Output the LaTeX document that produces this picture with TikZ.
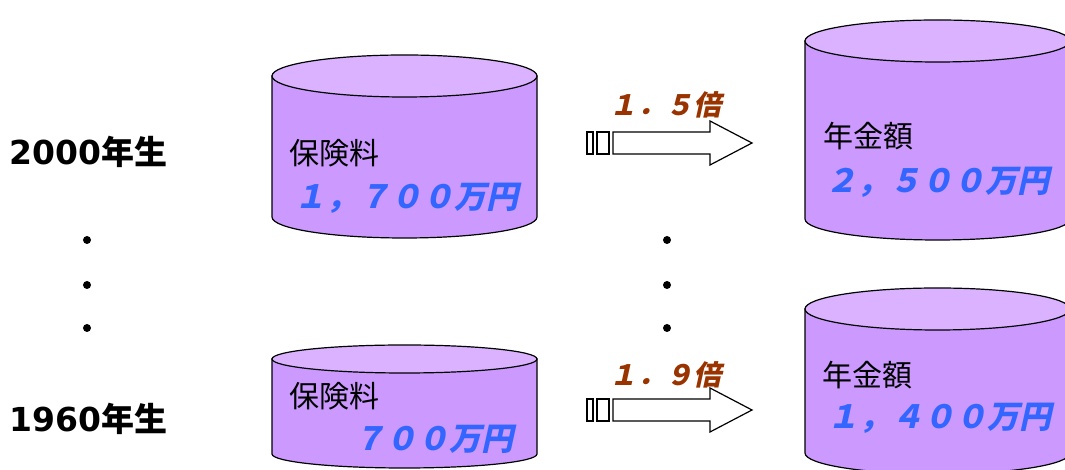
\documentclass[tikz,border=0pt]{standalone}
\usepackage{fontspec}
\usepackage{xcolor}
\usepackage{tikz}

\newfontfamily\jp{Noto Sans CJK JP}
\newfontfamily\jpbi[FakeSlant=0.22]{Noto Sans CJK JP}
\newfontfamily\dv{DejaVu Sans}

\definecolor{drumbody}{HTML}{CC99FF}
\definecolor{drumtop}{HTML}{DAB2FF}
\definecolor{sumblue}{HTML}{3366FF}
\definecolor{ratebrown}{HTML}{993300}

% drum: left x, right x, top y, bottom y, y radius
\newcommand{\drum}[5]{%
	\filldraw[drum_body] (#1,#3) -- (#1,#4) arc[start angle=180,end angle=360,x radius={(#2-#1)/2},y radius=#5] -- (#2,#3) -- cycle;
	\filldraw[drum_top] ({(#1+#2)/2},#3) ellipse[x radius={(#2-#1)/2},y radius=#5];
}

% fat arrow: tail x, centre y
\newcommand{\fatarrow}[2]{%
	\draw[fat_arrow] ({#1},{#2-11}) rectangle ++(6,22);
	\draw[fat_arrow] ({#1+10},{#2-11}) rectangle ++(12,22);
	\draw[fat_arrow] ({#1+26},{#2-11}) -- ({#1+123},{#2-11}) -- ({#1+123},{#2-22}) -- ({#1+165},{#2}) -- ({#1+123},{#2+22}) -- ({#1+123},{#2+11}) -- ({#1+26},{#2+11}) -- cycle;
}

\begin{document}
\begin{tikzpicture}[x=1pt,y=1pt]
		\tikzstyle{drum_body}=[draw=black, line width=1.2pt, fill=drumbody]
		\tikzstyle{drum_top}=[draw=black, line width=1.2pt, fill=drumtop]
		\tikzstyle{fat_arrow}=[draw=black, line width=1.2pt, fill=white]
		\tikzstyle{year_text}=[inner sep=0pt, anchor=west, font=\fontsize{33}{36}\selectfont\bfseries]
		\tikzstyle{item_text}=[inner sep=0pt, anchor=west, font=\jp\fontsize{30}{32}\selectfont]
		\tikzstyle{sum_text}=[inner sep=0pt, text=sumblue, font=\jpbi\fontsize{32}{34}\selectfont\bfseries]
		\tikzstyle{rate_text}=[inner sep=0pt, anchor=west, text=ratebrown, font=\jpbi\fontsize{28}{30}\selectfont\bfseries]
		\tikzstyle{dot}=[fill=black, circle, inner sep=0pt, minimum size=8pt]

		\useasboundingbox (0,0) rectangle (1065,470);
		\clip (0,0) rectangle (1065,470);

		\begin{scope}
			\drum{272}{537}{394}{253}{21}
			\drum{805}{1070}{429}{251}{21}
			\fatarrow{587}{327}

			\node [year_text] (born2000) at (9,318) {{\dv 2000}{\jp 年生}};
			\node [item_text] (premium2000) at (289,317) {保険料};
			\node [sum_text, anchor=west] (premiumsum2000) at (294,272) {１，７００万円};
			\node [rate_text] (rate2000) at (609,365) {１．５倍};
			\node [item_text] (pension2000) at (823,334) {年金額};
			\node [sum_text, anchor=west] (pensionsum2000) at (825,288) {２，５００万円};
		\end{scope}

		\begin{scope}
			\drum{272}{537}{111}{16}{14}
			\drum{805}{1070}{161}{17}{21}
			\fatarrow{587}{60}

			\node [year_text] (born1960) at (9,51) {{\dv 1960}{\jp 年生}};
			\node [item_text] (premium1960) at (289,74) {保険料};
			\node [sum_text, anchor=east] (premiumsum1960) at (514,31) {７００万円};
			\node [rate_text] (rate1960) at (609,95) {１．９倍};
			\node [item_text] (pension1960) at (822,95) {年金額};
			\node [sum_text, anchor=west] (pensionsum1960) at (827,52) {１，４００万円};
		\end{scope}

		\foreach \y [count=\i] in {230,185,142} {
			\node [dot] (ldot\i) at (87,\y) {};
			\node [dot] (rdot\i) at (667,\y) {};
		}
	\end{tikzpicture}
\end{document}
